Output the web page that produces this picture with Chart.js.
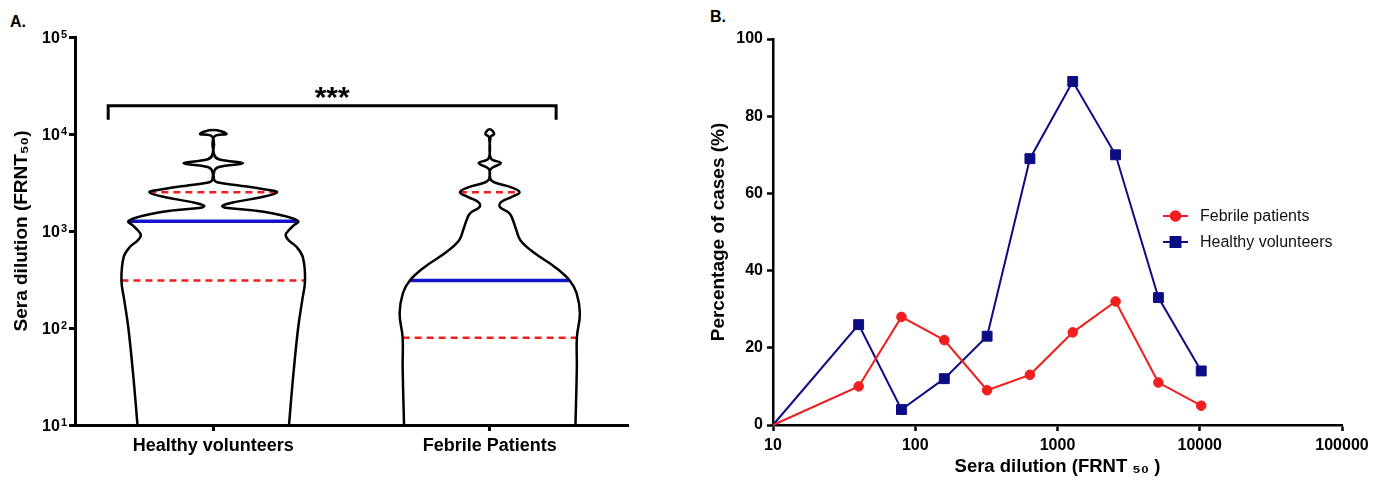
<!DOCTYPE html>
<html>
<head>
<meta charset="utf-8">
<script src="https://cdn.jsdelivr.net/npm/chart.js@4.4.1/dist/chart.umd.min.js"></script>
<style>
  body { margin: 0; background: #fff; width: 1387px; height: 480px; position: relative; overflow: hidden; font-family: "Liberation Sans", Arial, sans-serif; }
  .panel { position: absolute; top: 0; height: 480px; }
  #boxA { left: 0; width: 690px; }
  #boxB { left: 690px; width: 697px; }
  .tag { position: absolute; font-weight: bold; font-size: 16px; color: #000; }
</style>
</head>
<body>
<div class="tag" style="left:10px;top:13px">A.</div>
<div class="tag" style="left:710px;top:8px">B.</div>
<div class="panel" id="boxA"><canvas id="chartA"></canvas></div>
<div class="panel" id="boxB"><canvas id="chartB"></canvas></div>
<script>
// ---- panel A: violin plot (values are log10 of sera dilution) ----
const groups = ["Healthy volunteers", "Febrile Patients"];
const yTicksA = [10, 100, 1000, 10000, 100000];

const healthyLog  = [1.0, 1.5, 2.0, 2.29, 2.49, 2.73, 2.84, 2.90, 2.96, 3.01, 3.06, 3.10, 3.16, 3.21, 3.24, 3.26, 3.30, 3.35, 3.40, 3.43, 3.47, 3.50, 3.53, 3.62, 3.66, 3.70, 3.74, 3.79, 3.97, 4.0, 4.04];
const healthyHalf = [0.274, 0.289, 0.307, 0.322, 0.332, 0.324, 0.300, 0.274, 0.262, 0.274, 0.292, 0.307, 0.250, 0.153, 0.045, 0.033, 0.081, 0.177, 0.231, 0.183, 0.093, 0.018, 0.003, 0.004, 0.02, 0.107, 0.02, 0.003, 0.003, 0.048, 0];

const febrileLog  = [1.0, 1.6, 1.9, 2.15, 2.36, 2.49, 2.63, 2.77, 2.90, 3.01, 3.11, 3.18, 3.25, 3.30, 3.35, 3.40, 3.45, 3.50, 3.54, 3.64, 3.70, 3.75, 3.97, 4.0, 4.05];
const febrileHalf = [0.310, 0.315, 0.315, 0.326, 0.314, 0.289, 0.235, 0.163, 0.112, 0.096, 0.084, 0.072, 0.036, 0.042, 0.078, 0.108, 0.078, 0.018, 0.002, 0.004, 0.040, 0.004, 0.003, 0.016, 0];

const medianLog = [3.10, 2.49];
const q1Log = [2.49, 1.90];
const q3Log = [3.40, 3.40];

// ---- panel B: distribution of FRNT50 titres ----
const dilutions = [10, 40, 80, 160, 320, 640, 1280, 2560, 5120, 10240];
const febrilePct = [0, 10, 28, 22, 9, 13, 24, 32, 11, 5];
const healthyPct = [0, 26, 4, 12, 23, 69, 89, 70, 33, 14];
const xTicksB = [10, 100, 1000, 10000, 100000];

const FONT = '"Liberation Sans", Arial, sans-serif';
Chart.defaults.font.family = FONT;
Chart.defaults.color = '#000';

const RED = '#f01e1e';
const NAVY = '#0c0c84';

// start bottom-left, go up the left edge, then down the right edge
function outline(c, logs, half) {
  const left = logs.map((e, i) => ({ x: c - half[i], y: Math.pow(10, e) }));
  const right = logs.map((e, i) => ({ x: c + half[i], y: Math.pow(10, e) })).reverse();
  return left.concat(right.slice(1));
}

function level(c, logs, half, e) {
  const w = half[logs.indexOf(e)];
  return [{ x: c - w, y: Math.pow(10, e) }, { x: c + w, y: Math.pow(10, e) }];
}

const profiles = [[healthyLog, healthyHalf], [febrileLog, febrileHalf]];
const dsA = [];
profiles.forEach(([logs, half], c) => {
  dsA.push({ data: outline(c, logs, half), borderColor: '#000', borderWidth: 2.5, tension: 0.4, pointRadius: 0, clip: false });
  dsA.push({ data: level(c, logs, half, q1Log[c]), borderColor: RED, borderWidth: 2.5, borderDash: [7, 5], pointRadius: 0 });
  dsA.push({ data: level(c, logs, half, q3Log[c]), borderColor: RED, borderWidth: 2.5, borderDash: [7, 5], pointRadius: 0 });
  dsA.push({ data: level(c, logs, half, medianLog[c]), borderColor: '#1414c8', borderWidth: 3.5, pointRadius: 0 });
});
// significance bracket
const bracket = [{ x: -0.38, y: 14000 }, { x: -0.38, y: 19500 }, { x: 1.24, y: 19500 }, { x: 1.24, y: 14000 }];
dsA.push({ data: bracket, borderColor: '#000', borderWidth: 3, pointRadius: 0, tension: 0, clip: false });

const starsPlugin = {
  id: 'stars',
  afterDatasetsDraw(chart) {
    const { ctx, scales } = chart;
    const x = scales.x.getPixelForValue((bracket[0].x + bracket[2].x) / 2);
    const y = scales.y.getPixelForValue(bracket[1].y);
    ctx.save();
    ctx.font = 'bold 30px ' + FONT;
    ctx.fillStyle = '#000';
    ctx.textAlign = 'center';
    ctx.textBaseline = 'alphabetic';
    ctx.fillText('***', x, y + 1.5);
    ctx.restore();
  }
};

// "10" with a raised exponent, placed on the log scale's own ticks
const powerLabels = {
  id: 'powerLabels',
  afterDraw(chart) {
    const { ctx } = chart;
    const s = chart.scales.y;
    ctx.save();
    ctx.fillStyle = '#000';
    ctx.textBaseline = 'alphabetic';
    s.ticks.forEach(t => {
      const y = s.getPixelForValue(t.value);
      const exp = String(Math.round(Math.log10(t.value)));
      const right = s.right - 8;
      ctx.font = 'bold 11px ' + FONT;
      const ew = ctx.measureText(exp).width;
      ctx.textAlign = 'left';
      ctx.fillText(exp, right - ew, y + 1);
      ctx.font = 'bold 16px ' + FONT;
      ctx.textAlign = 'right';
      ctx.fillText('10', right - ew - 1, y + 6);
    });
    ctx.restore();
  }
};

const axisGrid = { drawOnChartArea: false, drawTicks: true, tickLength: 6, tickColor: '#000', tickWidth: 3 };

new Chart(document.getElementById('chartA'), {
  type: 'line',
  data: { datasets: dsA },
  options: {
    responsive: true,
    maintainAspectRatio: false,
    animation: false,
    layout: { padding: { left: 0, top: 37, right: 62, bottom: 0 } },
    plugins: { legend: { display: false }, tooltip: { enabled: false } },
    scales: {
      x: {
        type: 'linear', min: -0.5, max: 1.5,
        afterBuildTicks: s => { s.ticks = groups.map((g, i) => ({ value: i })); },
        afterFit: s => { s.height = 55; },
        ticks: { callback: v => groups[v], font: { size: 18, weight: 'bold' }, padding: 4, maxRotation: 0 },
        grid: axisGrid,
        border: { color: '#000', width: 3 }
      },
      y: {
        type: 'logarithmic', min: 10, max: 100000,
        afterBuildTicks: s => { s.ticks = yTicksA.map(v => ({ value: v })); },
        afterFit: s => { s.width = 75; },
        ticks: { display: false },
        grid: axisGrid,
        border: { color: '#000', width: 3 },
        title: { display: true, text: 'Sera dilution (FRNT\u2085\u2080)', font: { size: 19, weight: 'bold' }, padding: { top: 10, bottom: 0 } }
      }
    }
  },
  plugins: [starsPlugin, powerLabels]
});

// ---- panel B ----
const sideLegend = {
  id: 'sideLegend',
  afterDraw(chart) {
    const { ctx, chartArea } = chart;
    const x0 = chartArea.right - 179;
    ctx.save();
    chart.data.datasets.forEach((ds, i) => {
      const y = chartArea.top + 177 + i * 26;
      ctx.strokeStyle = ds.borderColor;
      ctx.lineWidth = 2;
      ctx.beginPath();
      ctx.moveTo(x0, y);
      ctx.lineTo(x0 + 25, y);
      ctx.stroke();
      Chart.helpers.drawPoint(ctx, { pointStyle: ds.pointStyle, radius: ds.pointRadius[1], borderWidth: 1 }, x0 + 12.5, y);
      ctx.fillStyle = ds.borderColor;
      ctx.fill();
      ctx.fillStyle = '#111';
      ctx.font = '16px ' + FONT;
      ctx.textAlign = 'left';
      ctx.textBaseline = 'middle';
      ctx.fillText(ds.label, x0 + 37, y + 1);
    });
    ctx.restore();
  }
};

new Chart(document.getElementById('chartB'), {
  type: 'line',
  data: {
    datasets: [
      { label: 'Febrile patients', data: dilutions.map((d, i) => ({ x: d, y: febrilePct[i] })),
        borderColor: RED, backgroundColor: RED, borderWidth: 2, pointStyle: 'circle',
        pointRadius: dilutions.map((d, i) => i === 0 ? 0 : 4.8), pointBorderWidth: 1, clip: false },
      { label: 'Healthy volunteers', data: dilutions.map((d, i) => ({ x: d, y: healthyPct[i] })),
        borderColor: NAVY, backgroundColor: NAVY, borderWidth: 2, pointStyle: 'rect',
        pointRadius: dilutions.map((d, i) => i === 0 ? 0 : 7), pointBorderWidth: 1, clip: false }
    ]
  },
  options: {
    responsive: true,
    maintainAspectRatio: false,
    animation: false,
    layout: { padding: { left: 0, top: 39, right: 45, bottom: 0 } },
    plugins: { legend: { display: false }, tooltip: { enabled: false } },
    scales: {
      x: {
        type: 'logarithmic', min: 10, max: 100000,
        afterBuildTicks: s => { s.ticks = xTicksB.map(v => ({ value: v })); },
        afterFit: s => { s.height = 55; },
        ticks: { callback: v => String(v), font: { size: 16, weight: 'bold' }, padding: 5, maxRotation: 0 },
        grid: { drawOnChartArea: false, drawTicks: true, tickLength: 6, tickColor: '#000', tickWidth: 2.5 },
        border: { color: '#000', width: 2.5 },
        title: { display: true, text: 'Sera dilution (FRNT \u2085\u2080 )', font: { size: 18.5, weight: 'bold' }, padding: { top: 0, bottom: 2 } }
      },
      y: {
        type: 'linear', min: 0, max: 100,
        ticks: { stepSize: 20, font: { size: 16, weight: 'bold' }, padding: 4 },
        afterFit: s => { s.width = 83; },
        grid: { drawOnChartArea: false, drawTicks: true, tickLength: 6, tickColor: '#000', tickWidth: 2.5 },
        border: { color: '#000', width: 2.5 },
        title: { display: true, text: 'Percentage of cases (%)', font: { size: 19, weight: 'bold' }, padding: { top: 17, bottom: 0 } }
      }
    }
  },
  plugins: [sideLegend]
});
</script>
</body>
</html>
